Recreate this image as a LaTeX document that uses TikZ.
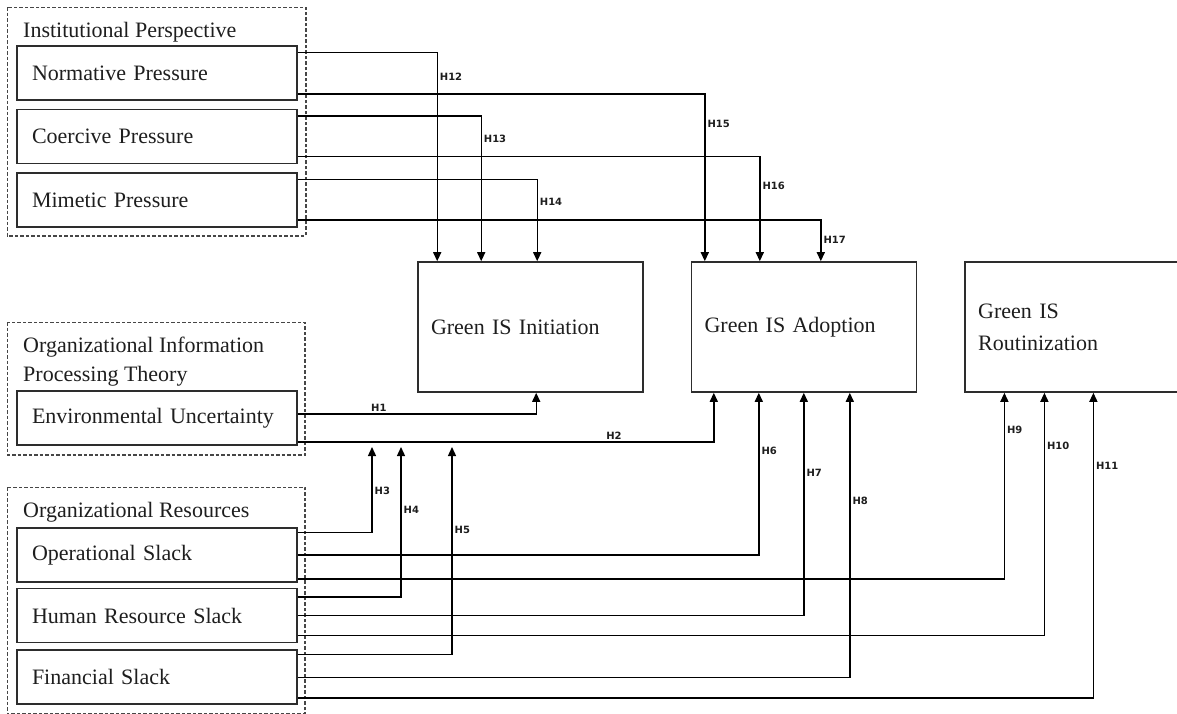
\documentclass[tikz,border=0pt]{standalone}
\usepackage{fontspec}
\setmainfont{Liberation Serif}
\newfontfamily\hlabfont{DejaVu Sans}
\usetikzlibrary{arrows.meta,positioning}
\definecolor{boxline}{RGB}{45,45,45}
\definecolor{grpgray}{RGB}{70,70,70}
\definecolor{txtgray}{RGB}{30,30,30}

\begin{document}
\begin{tikzpicture}[x=1pt,y=-1pt,
  construct/.style={draw=boxline, line width=1.6pt, text width=250pt, inner xsep=15pt, inner ysep=0pt, minimum height=54pt, align=left, font=\fontsize{22}{26}\selectfont, text=txtgray},
  outcome/.style={draw=boxline, line width=1.6pt, text width=199pt, inner xsep=13pt, inner ysep=0pt, minimum height=130pt, align=left, font=\fontsize{22}{32}\selectfont, text=txtgray},
  grpbox/.style={draw=grpgray, line width=1.4pt, dash pattern=on 3.5pt off 2pt},
  grplabel/.style={anchor=west, inner sep=0pt, align=left, font=\fontsize{22}{29}\selectfont, text=txtgray},
  link/.style={draw=black, line width=1.4pt, -{Triangle[length=9pt,width=8pt]}},
  hyp/.style={font=\hlabfont\bfseries\fontsize{10}{12}\selectfont, text=txtgray, inner sep=2pt}
]
\useasboundingbox (0,0) rectangle (1177,713);
% left-hand constructs
\node[construct] (norm) at (157,73) {Normative Pressure};
\node[construct, below=8pt of norm] (coer) {Coercive Pressure};
\node[construct, below=8pt of coer] (mim) {Mimetic Pressure};
\node[construct] (env) at (157,418) {Environmental Uncertainty};
\node[construct] (oper) at (157,555) {Operational Slack};
\node[construct, below=5pt of oper] (hum) {Human Resource Slack};
\node[construct, below=6pt of hum] (fin) {Financial Slack};
% outcomes
\node[outcome] (init) at (530.5,327) {Green IS Initiation};
\node[outcome, right=47pt of init] (adop) {Green IS Adoption};
\node[outcome, text width=188pt, right=47pt of adop] (rout) {Green IS\\Routinization};
% theory groups
\node[grplabel] (instlbl) at (23,32) {Institutional Perspective};
\node[grplabel] (oiptlbl) at (23,362) {Organizational Information\\Processing Theory};
\node[grplabel] (reslbl) at (23,512) {Organizational Resources};
\draw[grpbox] ([shift={(-9pt,38pt)}]norm.north west) rectangle ([shift={(8pt,-8pt)}]mim.south east);
\draw[grpbox] ([shift={(-9pt,68pt)}]env.north west) rectangle ([shift={(7pt,-9pt)}]env.south east);
\draw[grpbox] ([shift={(-9pt,40pt)}]oper.north west) rectangle ([shift={(7pt,-9pt)}]fin.south east);
% institutional paths
\draw[link] ([yshift=-7pt]norm.north east) -| node[hyp, right, pos=.56] {H12} ([xshift=20pt]init.north west);
\draw[link] ([yshift=7pt]norm.south east) -| node[hyp, right, pos=.59] {H15} ([xshift=14pt]adop.north west);
\draw[link] ([yshift=-7pt]coer.north east) -| node[hyp, right, pos=.58] {H13} ([xshift=64pt]init.north west);
\draw[link] ([yshift=8pt]coer.south east) -| node[hyp, right, pos=.64] {H16} ([xshift=69pt]adop.north west);
\draw[link] ([yshift=-7pt]mim.north east) -| node[hyp, right, pos=.64] {H14} ([xshift=120pt]init.north west);
\draw[link] ([yshift=8pt]mim.south east) -| node[hyp, right, pos=.74] {H17} ([xshift=130pt]adop.north west);
% uncertainty paths
\draw[link] ([yshift=4pt]env.east) -| node[hyp, above, pos=.17] {H1} ([xshift=119pt]init.south west);
\draw[link] ([yshift=4pt]env.south east) -| node[hyp, above, pos=.38] {H2} ([xshift=23pt]adop.south west);
% moderation ends under H2
\coordinate (m3) at (372,447);
\coordinate (m4) at (401,447);
\coordinate (m5) at (452,447);
% slack paths
\draw[link] ([yshift=-5pt]oper.north east) -| node[hyp, right, pos=.74] {H3} (m3);
\draw[link] (oper.east) -| node[hyp, right, pos=.82] {H6} ([xshift=68pt]adop.south west);
\draw[link] ([yshift=4pt]oper.south east) -| node[hyp, right, pos=.9] {H9} ([xshift=40pt]rout.south west);
\draw[link] ([yshift=-9pt]hum.north east) -| node[hyp, right, pos=.79] {H4} (m4);
\draw[link] (hum.east) -| node[hyp, right, pos=.82] {H7} ([xshift=113pt]adop.south west);
\draw[link] ([yshift=8pt]hum.south east) -| node[hyp, right, pos=.89] {H10} ([xshift=80pt]rout.south west);
\draw[link] ([yshift=-5pt]fin.north east) -| node[hyp, right, pos=.80] {H5} (m5);
\draw[link] (fin.east) -| node[hyp, right, pos=.81] {H8} ([xshift=159pt]adop.south west);
\draw[link] ([yshift=7pt]fin.south east) -| node[hyp, right, pos=.88] {H11} ([xshift=129pt]rout.south west);
\end{tikzpicture}
\end{document}
